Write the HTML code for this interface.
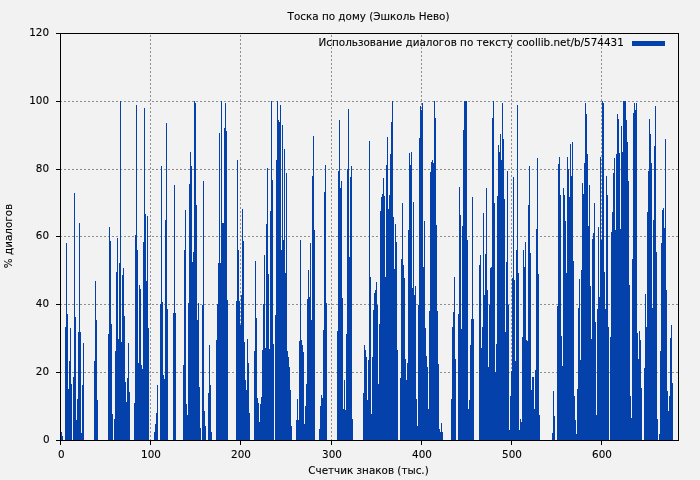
<!DOCTYPE html>
<html lang="ru"><head><meta charset="utf-8"><title>Тоска по дому (Эшколь Нево)</title>
<style>
html,body{margin:0;padding:0;background:#f2f2f2;}
body{width:700px;height:480px;overflow:hidden;}
svg{display:block;will-change:transform;font-family:"DejaVu Sans","Liberation Sans",sans-serif;font-size:10.4px;fill:#000;}
svg text{stroke:#000;stroke-width:0.1px;}
</style></head><body>
<svg width="700" height="480" viewBox="0 0 700 480">
<rect x="0" y="0" width="700" height="480" fill="#f2f2f2"/>
<g stroke="#8e8e8e" stroke-width="1" stroke-dasharray="2 2" fill="none" shape-rendering="crispEdges"><line x1="150.5" y1="441" x2="150.5" y2="34"/><line x1="240.5" y1="441" x2="240.5" y2="34"/><line x1="331.5" y1="441" x2="331.5" y2="34"/><line x1="421.5" y1="441" x2="421.5" y2="34"/><line x1="511.5" y1="441" x2="511.5" y2="34"/><line x1="601.5" y1="441" x2="601.5" y2="34"/><line x1="60" y1="372.5" x2="678" y2="372.5"/><line x1="60" y1="304.5" x2="678" y2="304.5"/><line x1="60" y1="236.5" x2="678" y2="236.5"/><line x1="60" y1="169.5" x2="678" y2="169.5"/><line x1="60" y1="101.5" x2="678" y2="101.5"/></g>
<g fill="#0541ab" shape-rendering="crispEdges"><rect x="61" y="432" width="1" height="8"/><rect x="62" y="436" width="1" height="4"/><rect x="65" y="327" width="1" height="113"/><rect x="66" y="243" width="1" height="197"/><rect x="67" y="314" width="1" height="126"/><rect x="68" y="389" width="1" height="51"/><rect x="69" y="361" width="1" height="79"/><rect x="70" y="328" width="1" height="112"/><rect x="71" y="384" width="1" height="56"/><rect x="73" y="377" width="1" height="63"/><rect x="74" y="193" width="1" height="247"/><rect x="75" y="317" width="1" height="123"/><rect x="76" y="420" width="1" height="20"/><rect x="77" y="399" width="1" height="41"/><rect x="78" y="332" width="1" height="108"/><rect x="79" y="223" width="1" height="217"/><rect x="80" y="332" width="1" height="108"/><rect x="81" y="433" width="1" height="7"/><rect x="82" y="385" width="1" height="55"/><rect x="83" y="343" width="1" height="97"/><rect x="94" y="361" width="1" height="79"/><rect x="95" y="281" width="1" height="159"/><rect x="96" y="320" width="1" height="120"/><rect x="97" y="400" width="1" height="40"/><rect x="108" y="334" width="1" height="106"/><rect x="109" y="227" width="1" height="213"/><rect x="110" y="241" width="1" height="199"/><rect x="111" y="324" width="1" height="116"/><rect x="112" y="414" width="1" height="26"/><rect x="114" y="419" width="1" height="21"/><rect x="115" y="351" width="1" height="89"/><rect x="116" y="272" width="1" height="168"/><rect x="117" y="238" width="1" height="202"/><rect x="118" y="339" width="1" height="101"/><rect x="119" y="263" width="1" height="177"/><rect x="120" y="101" width="1" height="339"/><rect x="121" y="342" width="1" height="98"/><rect x="122" y="275" width="1" height="165"/><rect x="123" y="268" width="1" height="172"/><rect x="124" y="316" width="1" height="124"/><rect x="125" y="382" width="1" height="58"/><rect x="126" y="402" width="1" height="38"/><rect x="127" y="378" width="1" height="62"/><rect x="128" y="343" width="1" height="97"/><rect x="129" y="392" width="1" height="48"/><rect x="134" y="403" width="1" height="37"/><rect x="135" y="235" width="1" height="205"/><rect x="136" y="105" width="1" height="335"/><rect x="137" y="250" width="1" height="190"/><rect x="138" y="363" width="1" height="77"/><rect x="139" y="285" width="1" height="155"/><rect x="140" y="289" width="1" height="151"/><rect x="141" y="365" width="1" height="75"/><rect x="142" y="369" width="1" height="71"/><rect x="143" y="242" width="1" height="198"/><rect x="144" y="108" width="1" height="332"/><rect x="145" y="214" width="1" height="226"/><rect x="146" y="281" width="1" height="159"/><rect x="147" y="216" width="1" height="224"/><rect x="148" y="328" width="1" height="112"/><rect x="154" y="432" width="1" height="8"/><rect x="155" y="424" width="1" height="16"/><rect x="156" y="413" width="1" height="27"/><rect x="157" y="385" width="1" height="55"/><rect x="160" y="304" width="1" height="136"/><rect x="161" y="166" width="1" height="274"/><rect x="162" y="302" width="1" height="138"/><rect x="163" y="375" width="1" height="65"/><rect x="164" y="379" width="1" height="61"/><rect x="165" y="220" width="1" height="220"/><rect x="166" y="123" width="1" height="317"/><rect x="167" y="309" width="1" height="131"/><rect x="173" y="313" width="1" height="127"/><rect x="174" y="185" width="1" height="255"/><rect x="175" y="313" width="1" height="127"/><rect x="183" y="365" width="1" height="75"/><rect x="184" y="250" width="1" height="190"/><rect x="185" y="210" width="1" height="230"/><rect x="186" y="404" width="1" height="36"/><rect x="187" y="415" width="1" height="25"/><rect x="188" y="303" width="1" height="137"/><rect x="189" y="184" width="1" height="256"/><rect x="190" y="152" width="1" height="288"/><rect x="191" y="166" width="1" height="274"/><rect x="192" y="262" width="1" height="178"/><rect x="193" y="252" width="1" height="188"/><rect x="194" y="101" width="1" height="339"/><rect x="195" y="103" width="1" height="337"/><rect x="196" y="205" width="1" height="235"/><rect x="197" y="320" width="1" height="120"/><rect x="198" y="303" width="1" height="137"/><rect x="199" y="387" width="1" height="53"/><rect x="200" y="428" width="1" height="12"/><rect x="202" y="305" width="1" height="135"/><rect x="203" y="181" width="1" height="259"/><rect x="204" y="411" width="1" height="29"/><rect x="205" y="426" width="1" height="14"/><rect x="208" y="393" width="1" height="47"/><rect x="209" y="345" width="1" height="95"/><rect x="210" y="385" width="1" height="55"/><rect x="211" y="432" width="1" height="8"/><rect x="216" y="340" width="1" height="100"/><rect x="217" y="304" width="1" height="136"/><rect x="218" y="263" width="1" height="177"/><rect x="219" y="133" width="1" height="307"/><rect x="220" y="263" width="1" height="177"/><rect x="221" y="101" width="1" height="339"/><rect x="222" y="223" width="2" height="217"/><rect x="224" y="128" width="1" height="312"/><rect x="225" y="103" width="1" height="337"/><rect x="226" y="131" width="1" height="309"/><rect x="227" y="300" width="1" height="140"/><rect x="236" y="301" width="1" height="139"/><rect x="237" y="160" width="1" height="280"/><rect x="238" y="250" width="1" height="190"/><rect x="239" y="301" width="1" height="139"/><rect x="240" y="325" width="1" height="115"/><rect x="241" y="295" width="1" height="145"/><rect x="242" y="209" width="1" height="231"/><rect x="243" y="241" width="1" height="199"/><rect x="244" y="342" width="1" height="98"/><rect x="245" y="380" width="1" height="60"/><rect x="246" y="390" width="1" height="50"/><rect x="247" y="339" width="1" height="101"/><rect x="248" y="363" width="1" height="77"/><rect x="249" y="413" width="1" height="27"/><rect x="254" y="351" width="1" height="89"/><rect x="255" y="261" width="1" height="179"/><rect x="256" y="318" width="1" height="122"/><rect x="257" y="398" width="1" height="42"/><rect x="258" y="403" width="1" height="37"/><rect x="259" y="422" width="1" height="18"/><rect x="260" y="404" width="1" height="36"/><rect x="261" y="397" width="1" height="43"/><rect x="262" y="350" width="1" height="90"/><rect x="263" y="304" width="1" height="136"/><rect x="264" y="255" width="1" height="185"/><rect x="265" y="348" width="1" height="92"/><rect x="266" y="224" width="1" height="216"/><rect x="267" y="168" width="1" height="272"/><rect x="268" y="274" width="1" height="166"/><rect x="269" y="349" width="1" height="91"/><rect x="270" y="211" width="1" height="229"/><rect x="271" y="101" width="1" height="339"/><rect x="272" y="180" width="1" height="260"/><rect x="273" y="344" width="1" height="96"/><rect x="275" y="315" width="1" height="125"/><rect x="276" y="160" width="1" height="280"/><rect x="277" y="101" width="1" height="339"/><rect x="278" y="120" width="1" height="320"/><rect x="279" y="122" width="1" height="318"/><rect x="280" y="105" width="1" height="335"/><rect x="281" y="250" width="1" height="190"/><rect x="282" y="125" width="1" height="315"/><rect x="283" y="240" width="1" height="200"/><rect x="284" y="149" width="1" height="291"/><rect x="285" y="273" width="1" height="167"/><rect x="286" y="173" width="1" height="267"/><rect x="287" y="351" width="1" height="89"/><rect x="288" y="357" width="1" height="83"/><rect x="289" y="367" width="1" height="73"/><rect x="290" y="390" width="1" height="50"/><rect x="291" y="426" width="1" height="14"/><rect x="296" y="420" width="1" height="20"/><rect x="297" y="399" width="1" height="41"/><rect x="298" y="420" width="1" height="20"/><rect x="299" y="341" width="1" height="99"/><rect x="300" y="240" width="1" height="200"/><rect x="301" y="340" width="1" height="100"/><rect x="302" y="345" width="1" height="95"/><rect x="303" y="352" width="1" height="88"/><rect x="304" y="424" width="1" height="16"/><rect x="305" y="406" width="1" height="34"/><rect x="306" y="384" width="1" height="56"/><rect x="307" y="299" width="1" height="141"/><rect x="308" y="270" width="1" height="170"/><rect x="309" y="297" width="1" height="143"/><rect x="310" y="243" width="1" height="197"/><rect x="311" y="320" width="1" height="120"/><rect x="312" y="176" width="1" height="264"/><rect x="313" y="136" width="1" height="304"/><rect x="314" y="230" width="1" height="210"/><rect x="319" y="429" width="1" height="11"/><rect x="320" y="406" width="1" height="34"/><rect x="321" y="395" width="1" height="45"/><rect x="322" y="398" width="1" height="42"/><rect x="323" y="330" width="1" height="110"/><rect x="324" y="192" width="1" height="248"/><rect x="325" y="165" width="1" height="275"/><rect x="326" y="303" width="1" height="137"/><rect x="337" y="331" width="1" height="109"/><rect x="338" y="171" width="1" height="269"/><rect x="339" y="120" width="1" height="320"/><rect x="340" y="188" width="1" height="252"/><rect x="341" y="181" width="1" height="259"/><rect x="342" y="298" width="1" height="142"/><rect x="343" y="409" width="1" height="31"/><rect x="344" y="380" width="1" height="60"/><rect x="345" y="410" width="1" height="30"/><rect x="346" y="334" width="1" height="106"/><rect x="347" y="169" width="1" height="271"/><rect x="348" y="109" width="1" height="331"/><rect x="349" y="257" width="1" height="183"/><rect x="350" y="177" width="1" height="263"/><rect x="351" y="166" width="1" height="274"/><rect x="352" y="419" width="1" height="21"/><rect x="363" y="393" width="1" height="47"/><rect x="364" y="345" width="1" height="95"/><rect x="365" y="350" width="1" height="90"/><rect x="366" y="357" width="1" height="83"/><rect x="367" y="400" width="1" height="40"/><rect x="368" y="360" width="1" height="80"/><rect x="369" y="141" width="1" height="299"/><rect x="370" y="277" width="1" height="163"/><rect x="371" y="414" width="1" height="26"/><rect x="372" y="357" width="1" height="83"/><rect x="373" y="310" width="1" height="130"/><rect x="374" y="293" width="1" height="147"/><rect x="375" y="290" width="1" height="150"/><rect x="376" y="282" width="1" height="158"/><rect x="377" y="305" width="1" height="135"/><rect x="378" y="384" width="1" height="56"/><rect x="379" y="324" width="1" height="116"/><rect x="380" y="211" width="1" height="229"/><rect x="381" y="197" width="1" height="243"/><rect x="382" y="194" width="1" height="246"/><rect x="383" y="178" width="1" height="262"/><rect x="384" y="196" width="1" height="244"/><rect x="385" y="277" width="1" height="163"/><rect x="386" y="165" width="1" height="275"/><rect x="387" y="137" width="1" height="303"/><rect x="388" y="209" width="1" height="231"/><rect x="389" y="195" width="1" height="245"/><rect x="390" y="154" width="1" height="286"/><rect x="391" y="122" width="1" height="318"/><rect x="392" y="101" width="1" height="339"/><rect x="393" y="217" width="1" height="223"/><rect x="394" y="269" width="1" height="171"/><rect x="395" y="224" width="1" height="216"/><rect x="396" y="242" width="1" height="198"/><rect x="397" y="350" width="1" height="90"/><rect x="400" y="378" width="1" height="62"/><rect x="401" y="259" width="1" height="181"/><rect x="402" y="203" width="1" height="237"/><rect x="403" y="265" width="1" height="175"/><rect x="404" y="278" width="1" height="162"/><rect x="405" y="359" width="1" height="81"/><rect x="406" y="380" width="1" height="60"/><rect x="407" y="363" width="1" height="77"/><rect x="408" y="230" width="1" height="210"/><rect x="409" y="153" width="1" height="287"/><rect x="410" y="165" width="1" height="275"/><rect x="411" y="152" width="1" height="288"/><rect x="412" y="288" width="1" height="152"/><rect x="413" y="202" width="1" height="238"/><rect x="414" y="295" width="1" height="145"/><rect x="415" y="286" width="1" height="154"/><rect x="416" y="399" width="1" height="41"/><rect x="417" y="426" width="1" height="14"/><rect x="418" y="305" width="1" height="135"/><rect x="419" y="138" width="1" height="302"/><rect x="420" y="106" width="1" height="334"/><rect x="421" y="110" width="1" height="330"/><rect x="422" y="103" width="1" height="337"/><rect x="423" y="267" width="1" height="173"/><rect x="424" y="221" width="1" height="219"/><rect x="425" y="328" width="1" height="112"/><rect x="426" y="356" width="1" height="84"/><rect x="427" y="367" width="1" height="73"/><rect x="428" y="409" width="1" height="31"/><rect x="429" y="311" width="1" height="129"/><rect x="430" y="172" width="1" height="268"/><rect x="431" y="162" width="1" height="278"/><rect x="432" y="160" width="1" height="280"/><rect x="433" y="163" width="1" height="277"/><rect x="434" y="101" width="1" height="339"/><rect x="435" y="118" width="1" height="322"/><rect x="436" y="225" width="1" height="215"/><rect x="437" y="311" width="1" height="129"/><rect x="438" y="364" width="1" height="76"/><rect x="439" y="429" width="1" height="11"/><rect x="440" y="432" width="1" height="8"/><rect x="441" y="423" width="1" height="17"/><rect x="442" y="432" width="1" height="8"/><rect x="451" y="399" width="1" height="41"/><rect x="452" y="327" width="1" height="113"/><rect x="453" y="312" width="1" height="128"/><rect x="454" y="277" width="1" height="163"/><rect x="455" y="359" width="1" height="81"/><rect x="458" y="314" width="1" height="126"/><rect x="459" y="187" width="1" height="253"/><rect x="460" y="215" width="1" height="225"/><rect x="461" y="329" width="1" height="111"/><rect x="462" y="226" width="1" height="214"/><rect x="463" y="130" width="1" height="310"/><rect x="464" y="101" width="3" height="339"/><rect x="467" y="240" width="1" height="200"/><rect x="468" y="409" width="1" height="31"/><rect x="469" y="400" width="1" height="40"/><rect x="470" y="345" width="1" height="95"/><rect x="471" y="319" width="1" height="121"/><rect x="472" y="197" width="1" height="243"/><rect x="473" y="319" width="1" height="121"/><rect x="479" y="265" width="1" height="175"/><rect x="480" y="255" width="1" height="185"/><rect x="481" y="348" width="1" height="92"/><rect x="482" y="327" width="1" height="113"/><rect x="483" y="213" width="1" height="227"/><rect x="484" y="295" width="1" height="145"/><rect x="485" y="254" width="1" height="186"/><rect x="486" y="188" width="1" height="252"/><rect x="487" y="290" width="1" height="150"/><rect x="488" y="367" width="1" height="73"/><rect x="489" y="305" width="1" height="135"/><rect x="490" y="268" width="1" height="172"/><rect x="491" y="267" width="1" height="173"/><rect x="492" y="118" width="1" height="322"/><rect x="493" y="101" width="1" height="339"/><rect x="494" y="203" width="1" height="237"/><rect x="495" y="372" width="1" height="68"/><rect x="496" y="344" width="1" height="96"/><rect x="497" y="196" width="1" height="244"/><rect x="498" y="145" width="1" height="295"/><rect x="499" y="152" width="1" height="288"/><rect x="500" y="134" width="1" height="306"/><rect x="501" y="160" width="1" height="280"/><rect x="502" y="103" width="1" height="337"/><rect x="503" y="139" width="1" height="301"/><rect x="504" y="199" width="1" height="241"/><rect x="505" y="332" width="1" height="108"/><rect x="506" y="262" width="1" height="178"/><rect x="507" y="171" width="1" height="269"/><rect x="508" y="305" width="1" height="135"/><rect x="509" y="430" width="1" height="10"/><rect x="510" y="396" width="1" height="44"/><rect x="511" y="371" width="1" height="69"/><rect x="512" y="278" width="1" height="162"/><rect x="513" y="177" width="1" height="263"/><rect x="514" y="280" width="1" height="160"/><rect x="515" y="361" width="1" height="79"/><rect x="516" y="250" width="1" height="190"/><rect x="517" y="105" width="1" height="335"/><rect x="518" y="273" width="1" height="167"/><rect x="519" y="430" width="1" height="10"/><rect x="520" y="419" width="1" height="21"/><rect x="521" y="422" width="1" height="18"/><rect x="522" y="337" width="1" height="103"/><rect x="523" y="250" width="1" height="190"/><rect x="524" y="267" width="1" height="173"/><rect x="525" y="242" width="1" height="198"/><rect x="526" y="340" width="1" height="100"/><rect x="527" y="341" width="1" height="99"/><rect x="528" y="205" width="1" height="235"/><rect x="529" y="166" width="1" height="274"/><rect x="530" y="253" width="1" height="187"/><rect x="531" y="390" width="1" height="50"/><rect x="532" y="377" width="2" height="63"/><rect x="534" y="409" width="1" height="31"/><rect x="535" y="370" width="1" height="70"/><rect x="536" y="229" width="1" height="211"/><rect x="537" y="158" width="1" height="282"/><rect x="538" y="274" width="1" height="166"/><rect x="539" y="415" width="1" height="25"/><rect x="552" y="433" width="1" height="7"/><rect x="553" y="391" width="1" height="49"/><rect x="554" y="416" width="1" height="24"/><rect x="557" y="306" width="1" height="134"/><rect x="558" y="164" width="1" height="276"/><rect x="559" y="157" width="1" height="283"/><rect x="560" y="195" width="1" height="245"/><rect x="561" y="336" width="1" height="104"/><rect x="562" y="366" width="1" height="74"/><rect x="563" y="188" width="1" height="252"/><rect x="564" y="195" width="1" height="245"/><rect x="565" y="221" width="1" height="219"/><rect x="566" y="273" width="1" height="167"/><rect x="567" y="157" width="1" height="283"/><rect x="568" y="169" width="1" height="271"/><rect x="569" y="197" width="1" height="243"/><rect x="570" y="144" width="1" height="296"/><rect x="571" y="176" width="1" height="264"/><rect x="572" y="142" width="1" height="298"/><rect x="573" y="261" width="1" height="179"/><rect x="574" y="396" width="1" height="44"/><rect x="575" y="420" width="1" height="20"/><rect x="576" y="434" width="1" height="6"/><rect x="577" y="389" width="1" height="51"/><rect x="578" y="308" width="1" height="132"/><rect x="579" y="279" width="1" height="161"/><rect x="580" y="360" width="1" height="80"/><rect x="581" y="270" width="1" height="170"/><rect x="582" y="183" width="1" height="257"/><rect x="583" y="194" width="1" height="246"/><rect x="584" y="163" width="1" height="277"/><rect x="585" y="103" width="1" height="337"/><rect x="586" y="114" width="1" height="326"/><rect x="587" y="154" width="1" height="286"/><rect x="588" y="226" width="1" height="214"/><rect x="589" y="185" width="1" height="255"/><rect x="590" y="286" width="1" height="154"/><rect x="591" y="339" width="1" height="101"/><rect x="592" y="239" width="1" height="201"/><rect x="593" y="233" width="1" height="207"/><rect x="594" y="203" width="1" height="237"/><rect x="595" y="322" width="1" height="118"/><rect x="596" y="415" width="1" height="25"/><rect x="597" y="309" width="1" height="131"/><rect x="598" y="227" width="1" height="213"/><rect x="599" y="297" width="1" height="143"/><rect x="600" y="157" width="1" height="283"/><rect x="601" y="240" width="1" height="200"/><rect x="602" y="101" width="1" height="339"/><rect x="603" y="103" width="1" height="337"/><rect x="604" y="272" width="1" height="168"/><rect x="605" y="309" width="1" height="131"/><rect x="606" y="176" width="1" height="264"/><rect x="607" y="195" width="1" height="245"/><rect x="608" y="327" width="1" height="113"/><rect x="610" y="337" width="1" height="103"/><rect x="611" y="232" width="1" height="208"/><rect x="612" y="212" width="1" height="228"/><rect x="613" y="173" width="1" height="267"/><rect x="614" y="158" width="1" height="282"/><rect x="615" y="230" width="1" height="210"/><rect x="616" y="154" width="1" height="286"/><rect x="617" y="114" width="1" height="326"/><rect x="618" y="119" width="1" height="321"/><rect x="619" y="153" width="1" height="287"/><rect x="620" y="229" width="1" height="211"/><rect x="621" y="126" width="1" height="314"/><rect x="622" y="152" width="1" height="288"/><rect x="623" y="101" width="3" height="339"/><rect x="626" y="120" width="1" height="320"/><rect x="627" y="142" width="1" height="298"/><rect x="628" y="181" width="1" height="259"/><rect x="629" y="285" width="1" height="155"/><rect x="630" y="396" width="1" height="44"/><rect x="631" y="418" width="1" height="22"/><rect x="632" y="259" width="1" height="181"/><rect x="633" y="113" width="1" height="327"/><rect x="634" y="103" width="1" height="337"/><rect x="635" y="110" width="1" height="330"/><rect x="636" y="103" width="1" height="337"/><rect x="637" y="333" width="1" height="107"/><rect x="638" y="359" width="1" height="81"/><rect x="639" y="331" width="1" height="109"/><rect x="640" y="340" width="1" height="100"/><rect x="641" y="388" width="1" height="52"/><rect x="644" y="368" width="1" height="72"/><rect x="645" y="294" width="1" height="146"/><rect x="646" y="327" width="1" height="113"/><rect x="647" y="212" width="1" height="228"/><rect x="648" y="171" width="1" height="269"/><rect x="649" y="119" width="1" height="321"/><rect x="650" y="134" width="1" height="306"/><rect x="651" y="163" width="1" height="277"/><rect x="652" y="308" width="1" height="132"/><rect x="653" y="220" width="1" height="220"/><rect x="654" y="146" width="1" height="294"/><rect x="655" y="106" width="1" height="334"/><rect x="656" y="252" width="1" height="188"/><rect x="657" y="419" width="1" height="21"/><rect x="659" y="434" width="1" height="6"/><rect x="660" y="351" width="1" height="89"/><rect x="661" y="243" width="1" height="197"/><rect x="662" y="210" width="1" height="230"/><rect x="663" y="208" width="1" height="232"/><rect x="664" y="228" width="1" height="212"/><rect x="665" y="139" width="1" height="301"/><rect x="666" y="290" width="1" height="150"/><rect x="667" y="391" width="1" height="49"/><rect x="668" y="411" width="1" height="29"/><rect x="669" y="396" width="1" height="44"/><rect x="670" y="338" width="1" height="102"/><rect x="671" y="325" width="1" height="115"/><rect x="672" y="383" width="1" height="57"/></g>
<g stroke="#000" stroke-width="1" fill="none" shape-rendering="crispEdges"><line x1="60.5" y1="440.5" x2="60.5" y2="445"/><line x1="150.5" y1="440.5" x2="150.5" y2="445"/><line x1="240.5" y1="440.5" x2="240.5" y2="445"/><line x1="331.5" y1="440.5" x2="331.5" y2="445"/><line x1="421.5" y1="440.5" x2="421.5" y2="445"/><line x1="511.5" y1="440.5" x2="511.5" y2="445"/><line x1="601.5" y1="440.5" x2="601.5" y2="445"/><line x1="56" y1="440.5" x2="60.5" y2="440.5"/><line x1="56" y1="372.5" x2="60.5" y2="372.5"/><line x1="56" y1="304.5" x2="60.5" y2="304.5"/><line x1="56" y1="236.5" x2="60.5" y2="236.5"/><line x1="56" y1="169.5" x2="60.5" y2="169.5"/><line x1="56" y1="101.5" x2="60.5" y2="101.5"/><line x1="56" y1="33.5" x2="60.5" y2="33.5"/><rect x="60.5" y="33.5" width="618" height="407"/></g>
<text x="368.5" y="20" text-anchor="middle">Тоска по дому (Эшколь Нево)</text>
<text x="623.8" y="46" text-anchor="end">Использование диалогов по тексту coollib.net/b/574431</text>
<rect x="632" y="41" width="33" height="5" fill="#0541ab" shape-rendering="crispEdges"/>
<text x="61.4" y="458.2" text-anchor="middle">0</text><text x="151.0" y="458.2" text-anchor="middle">100</text><text x="241.0" y="458.2" text-anchor="middle">200</text><text x="332.0" y="458.2" text-anchor="middle">300</text><text x="422.0" y="458.2" text-anchor="middle">400</text><text x="512.0" y="458.2" text-anchor="middle">500</text><text x="602.0" y="458.2" text-anchor="middle">600</text><text x="49.6" y="443.0" text-anchor="end">0</text><text x="49" y="375.0" text-anchor="end">20</text><text x="49" y="307.0" text-anchor="end">40</text><text x="49" y="239.0" text-anchor="end">60</text><text x="49" y="172.0" text-anchor="end">80</text><text x="49" y="104.0" text-anchor="end">100</text><text x="49" y="36.0" text-anchor="end">120</text>
<text x="368.5" y="474" text-anchor="middle">Счетчик знаков (тыс.)</text>
<text transform="translate(12,236) rotate(-90)" text-anchor="middle">% диалогов</text>
</svg>
</body></html>
